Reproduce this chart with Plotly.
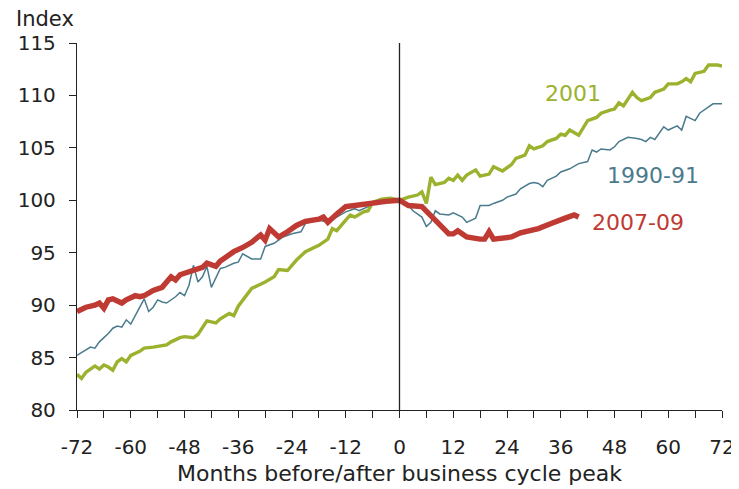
import plotly.graph_objects as go

# 1990-91 recession
months_1990 = [-72, -70, -69, -68, -67, -66, -65, -64, -63, -62, -61, -60, -59, -58, -57, -56, -55, -54, -53, -52,
               -50, -49, -48, -47, -46, -45, -44, -43, -42, -40, -39, -37, -36, -35, -33, -31, -30, -28, -27, -26,
               -24, -22, -21, -18, -16, -14, -12, -10, -9, -7, -6, -3, 0, 2, 3, 5, 6, 7, 8, 9,
               11, 12, 14, 15, 17, 18, 20, 21, 23, 24, 26, 27, 29, 30, 31, 32, 33, 35, 36, 38,
               40, 42, 43, 44, 45, 47, 48, 49, 51, 53, 54, 55, 56, 57, 59, 60, 62, 63, 64, 66,
               67, 69, 70, 72]
index_1990 = [85.2, 85.7, 86.0, 85.9, 86.5, 86.9, 87.3, 87.8, 88.0, 87.9, 88.6, 88.2, 89.0, 89.7, 90.6, 89.4, 89.8, 90.5, 90.3, 90.2,
              90.8, 91.2, 90.9, 91.9, 93.8, 92.2, 92.7, 93.7, 91.7, 93.5, 93.6, 94.0, 94.1, 94.9, 94.4, 94.4, 95.6, 95.9, 96.2, 96.5,
              96.8, 97.0, 97.8, 98.1, 97.9, 98.4, 98.9, 99.2, 99.0, 99.4, 99.8, 99.9, 100.0, 99.5, 99.0, 98.4, 97.5, 97.9, 99.0, 98.7,
              98.6, 98.8, 98.4, 97.9, 98.3, 99.5, 99.5, 99.7, 100.0, 100.3, 100.6, 101.1, 101.6, 101.7, 101.6, 101.3, 101.9, 102.3, 102.7, 103.0,
              103.5, 103.7, 104.8, 104.6, 104.9, 104.8, 105.1, 105.6, 106.0, 105.9, 105.8, 105.6, 106.0, 105.8, 107.0, 106.7, 107.1, 106.7, 108.0, 107.6,
              108.3, 108.9, 109.2, 109.2]

# 2001 recession
months_2001 = [-72, -71, -70, -68, -67, -66, -65, -64, -63, -62, -61, -60, -58, -57, -55, -52, -51, -49, -48, -46,
               -45, -44, -43, -41, -40, -38, -37, -36, -35, -33, -30, -28, -27, -25, -23, -21, -18, -16, -15, -14,
               -12, -11, -10, -8, -7, -6, -4, -2, -1, 0, 2, 4, 5, 6, 7, 8, 10, 11, 12, 13,
               14, 15, 17, 18, 20, 21, 23, 25, 26, 28, 29, 30, 32, 33, 35, 36, 37, 38, 40, 41,
               42, 44, 45, 47, 48, 49, 50, 52, 53, 54, 56, 57, 59, 60, 62, 63, 64, 65, 66, 68,
               69, 71, 72]
index_2001 = [83.4, 83.0, 83.6, 84.2, 83.9, 84.3, 84.1, 83.8, 84.6, 84.9, 84.6, 85.2, 85.6, 85.9, 86.0, 86.2, 86.5, 86.9, 87.0, 86.9,
              87.2, 87.9, 88.5, 88.3, 88.7, 89.2, 89.0, 89.9, 90.5, 91.6, 92.2, 92.7, 93.4, 93.3, 94.3, 95.1, 95.7, 96.3, 97.3, 97.1,
              98.1, 98.6, 98.4, 98.9, 99.0, 99.8, 100.1, 100.2, 100.1, 100.0, 100.3, 100.5, 100.8, 99.7, 102.2, 101.5, 101.7, 102.1, 101.9, 102.4,
              101.9, 102.4, 102.9, 102.3, 102.5, 103.2, 102.8, 103.4, 104.0, 104.3, 105.2, 104.9, 105.2, 105.6, 105.9, 106.3, 106.2, 106.7, 106.2, 106.9,
              107.6, 107.9, 108.3, 108.6, 108.7, 109.3, 109.0, 110.3, 109.8, 109.5, 109.8, 110.3, 110.6, 111.1, 111.1, 111.3, 111.6, 111.3, 112.1, 112.3,
              112.9, 112.9, 112.8]

# 2007-09 recession
months_2007 = [-72, -70, -68, -67, -66, -65, -64, -62, -61, -59, -58, -57, -55, -53, -51, -50, -49, -46, -44, -43,
               -41, -40, -38, -37, -35, -33, -31, -30, -29, -27, -25, -23, -21, -18, -17, -16, -14, -12, -10, -7,
               -5, -3, 0, 2, 5, 7, 9, 11, 12, 13, 15, 16, 18, 19, 20, 21, 23, 25, 27, 28,
               31, 34, 36, 37, 39, 40]
index_2007 = [89.4, 89.8, 90.0, 90.2, 89.7, 90.5, 90.6, 90.2, 90.5, 90.9, 90.8, 90.9, 91.4, 91.7, 92.7, 92.4, 92.9, 93.3, 93.6, 94.0,
              93.7, 94.2, 94.8, 95.1, 95.5, 96.0, 96.7, 96.2, 97.3, 96.5, 97.0, 97.6, 98.0, 98.2, 98.4, 97.9, 98.7, 99.4, 99.5, 99.7,
              99.8, 99.9, 100.0, 99.5, 99.4, 98.5, 97.6, 96.8, 96.8, 97.1, 96.5, 96.4, 96.3, 96.3, 97.0, 96.3, 96.4, 96.5, 96.9, 97.0,
              97.3, 97.8, 98.2, 98.3, 98.6, 98.4]

series_names = ["1990-91", "2001", "2007-09"]
label_x = [56.6, 38.7, 53.2]
label_y = [102.4, 110.2, 97.9]

x_ticks = [-72, -60, -48, -36, -24, -12, 0, 12, 24, 36, 48, 60, 72]
x_ticktext = ["-72", "-60", "-48", "-36", "-24", "-12", "0", "12", "24", "36", "48", "60", "72"]
y_ticks = [80, 85, 90, 95, 100, 105, 110, 115]

c_blue = "#4A7B8D"
c_green = "#9AB22E"
c_red = "#BF3A33"
c_axis = "#222222"

fig = go.Figure()
fig.add_trace(go.Scatter(x=months_1990, y=index_1990, mode="lines", line=dict(color=c_blue, width=1.5), showlegend=False))
fig.add_trace(go.Scatter(x=months_2001, y=index_2001, mode="lines", line=dict(color=c_green, width=3.4), showlegend=False))
fig.add_trace(go.Scatter(x=months_2007, y=index_2007, mode="lines", line=dict(color=c_red, width=5.4), showlegend=False))

for name, lx, ly, col in zip(series_names, label_x, label_y, [c_blue, c_green, c_red]):
    fig.add_annotation(x=lx, y=ly, text=name, showarrow=False,
                       font=dict(family="DejaVu Sans", color=col, size=22),
                       xanchor="center", yanchor="middle")

fig.add_shape(type="line", x0=0, x1=0, y0=80, y1=115.3, xref="x", yref="y",
              line=dict(color=c_axis, width=1.3))

fig.add_annotation(x=0, y=1, xref="paper", yref="paper", text="Index", showarrow=False,
                   xanchor="right", yanchor="bottom", xshift=-1, yshift=10,
                   font=dict(family="DejaVu Sans", size=21, color=c_axis))

tick_font = dict(family="DejaVu Sans", size=20, color=c_axis)
title_font = dict(family="DejaVu Sans", size=22, color=c_axis)

# page body has an 8px default margin; figure is sized so the plot area lands where the reference has it
fig.update_layout(
    width=731, height=481,
    margin=dict(l=69, r=17, t=35, b=79, autoexpand=False),
    paper_bgcolor="white", plot_bgcolor="white",
    font=dict(family="DejaVu Sans", size=20, color=c_axis),
    xaxis=dict(range=[-72, 72], tickvals=x_ticks, ticktext=x_ticktext, ticks="outside", ticklen=7,
               tickcolor=c_axis, ticklabelstandoff=12,
               showline=True, linecolor=c_axis, linewidth=1.3, showgrid=False, zeroline=False,
               tickfont=tick_font,
               minor=dict(dtick=6, tick0=0, ticks="outside", ticklen=7, tickcolor=c_axis, showgrid=False),
               title=dict(text="Months before/after business cycle peak", font=title_font, standoff=7)),
    yaxis=dict(range=[80, 115], tickvals=y_ticks, ticks="outside", ticklen=7, tickcolor=c_axis,
               ticklabelstandoff=9,
               showline=True, linecolor=c_axis, linewidth=1.3, showgrid=False, zeroline=False,
               tickfont=tick_font),
)

fig.write_html("out.html")
